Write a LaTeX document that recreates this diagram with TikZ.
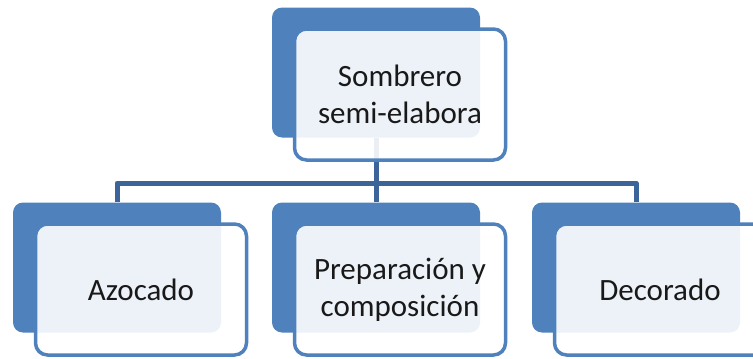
\documentclass[tikz,border=0pt]{standalone}
\usepackage{fontspec}
\setmainfont{Carlito}
\usepackage{tikz}
\definecolor{backblue}{RGB}{79,129,189}
\definecolor{lineblue}{RGB}{60,100,152}
\definecolor{textgray}{RGB}{25,25,25}

\begin{document}
\begin{tikzpicture}[x=1pt,y=-1pt,
    backbox/.style={rectangle,rounded corners=10pt,fill=backblue,draw=none,
        minimum width=208pt,minimum height=130pt,inner sep=0pt},
    frontbox/.style={rectangle,rounded corners=12pt,draw=backblue,line width=3.5pt,
        fill=white,fill opacity=0.9,text opacity=1,text=textgray,
        minimum width=211pt,minimum height=131pt,align=center,
        font=\fontsize{31}{37}\selectfont},
    conn/.style={draw=lineblue,line width=5pt,line join=round}]
    \useasboundingbox (0,0) rectangle (753,359);

    % Back boxes
    \node[backbox] (topb) at (376,72.5) {};
    \node[backbox] (azob) at (117,267.5) {};
    \node[backbox] (prepb) at (376,267.5) {};
    \node[backbox] (decob) at (636,267.5) {};

    % Connectors
    \coordinate (bus) at (376,183);
    \draw[conn] (topb.south) -- (bus);
    \foreach \n in {azob,prepb,decob}
        \draw[conn] (bus) -| (\n.north);

    % Front boxes with text
    \node[frontbox] (topf) at ([shift={(24,22)}]topb) {Sombrero\\semi-elabora};
    \node[frontbox] (azof) at ([shift={(24,22)}]azob) {Azocado};
    \node[frontbox] (prepf) at ([shift={(24,22)}]prepb) {Preparación y\\composición};
    \node[frontbox] (decof) at ([shift={(24,22)}]decob) {Decorado};
\end{tikzpicture}
\end{document}
